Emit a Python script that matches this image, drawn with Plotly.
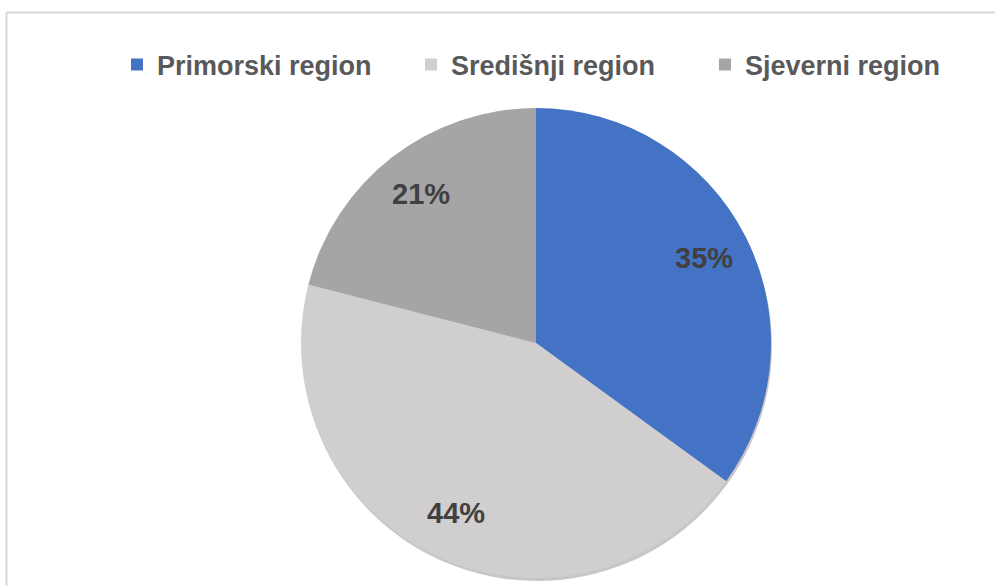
import math
import plotly.graph_objects as go

labels = ["Primorski region", "Središnji region", "Sjeverni region"]
values = [35, 44, 21]
colors = ["#4472C4", "#D0CECE", "#A5A5A5"]

W, H = 995, 586
CX, CY, R = 536, 343, 235          # pie centre / radius in pixels
LABEL_R = 0.80                     # label distance as fraction of radius


def px(x):
    return x / W


def py(y):
    return 1 - y / H


fig = go.Figure()

# soft shadow beneath the pie
fig.add_trace(go.Pie(
    values=[sum(values)],
    labels=["shadow"],
    marker=dict(colors=["rgba(0,0,0,0.22)"], line=dict(width=0)),
    textinfo="none",
    hoverinfo="skip",
    showlegend=False,
    domain=dict(x=[px(CX - R + 1), px(CX + R + 1)], y=[py(CY + R + 3), py(CY - R + 3)]),
))

fig.add_trace(go.Pie(
    labels=labels,
    values=values,
    sort=False,
    direction="clockwise",
    rotation=0,
    marker=dict(colors=colors, line=dict(width=0)),
    textinfo="none",
    domain=dict(x=[px(CX - R), px(CX + R)], y=[py(CY + R), py(CY - R)]),
    hoverinfo="label+percent",
))

# percentage labels placed along each slice's mid-angle (Excel "best fit" style)
total = sum(values)
cum = 0
annotations = []
for v in values:
    mid = (cum + v / 2) / total * 2 * math.pi
    cum += v
    x = CX + LABEL_R * R * math.sin(mid)
    y = CY - LABEL_R * R * math.cos(mid)
    annotations.append(dict(
        x=px(x), y=py(y), xref="paper", yref="paper",
        text=f"{round(v / total * 100)}%", showarrow=False,
        xanchor="center", yanchor="middle",
        font=dict(family="Liberation Sans, Arial, sans-serif", size=29, color="#404040", weight="bold"),
    ))

fig.update_layout(
    width=W, height=H,
    margin=dict(l=0, r=0, t=0, b=0, autoexpand=False),
    paper_bgcolor="white",
    plot_bgcolor="white",
    showlegend=True,
    legend=dict(
        orientation="h",
        x=px(558), xanchor="center",
        y=py(65), yanchor="middle",
        font=dict(family="Liberation Sans, Arial, sans-serif", size=27, color="#595959", weight="bold"),
        itemwidth=30,
        entrywidth=249,
        traceorder="normal",
    ),
    annotations=annotations,
    shapes=[
        dict(type="line", xref="paper", yref="paper", x0=px(6.5), x1=1, y0=py(12.5), y1=py(12.5),
             line=dict(color="#D9D9D9", width=2)),
        dict(type="line", xref="paper", yref="paper", x0=px(6.5), x1=px(6.5), y0=0, y1=py(12.5),
             line=dict(color="#D9D9D9", width=2)),
    ],
)

fig.write_html(
    "out.html",
    config={"displayModeBar": False},
    post_script="document.body.style.margin='0';document.body.style.overflow='hidden';",
)
